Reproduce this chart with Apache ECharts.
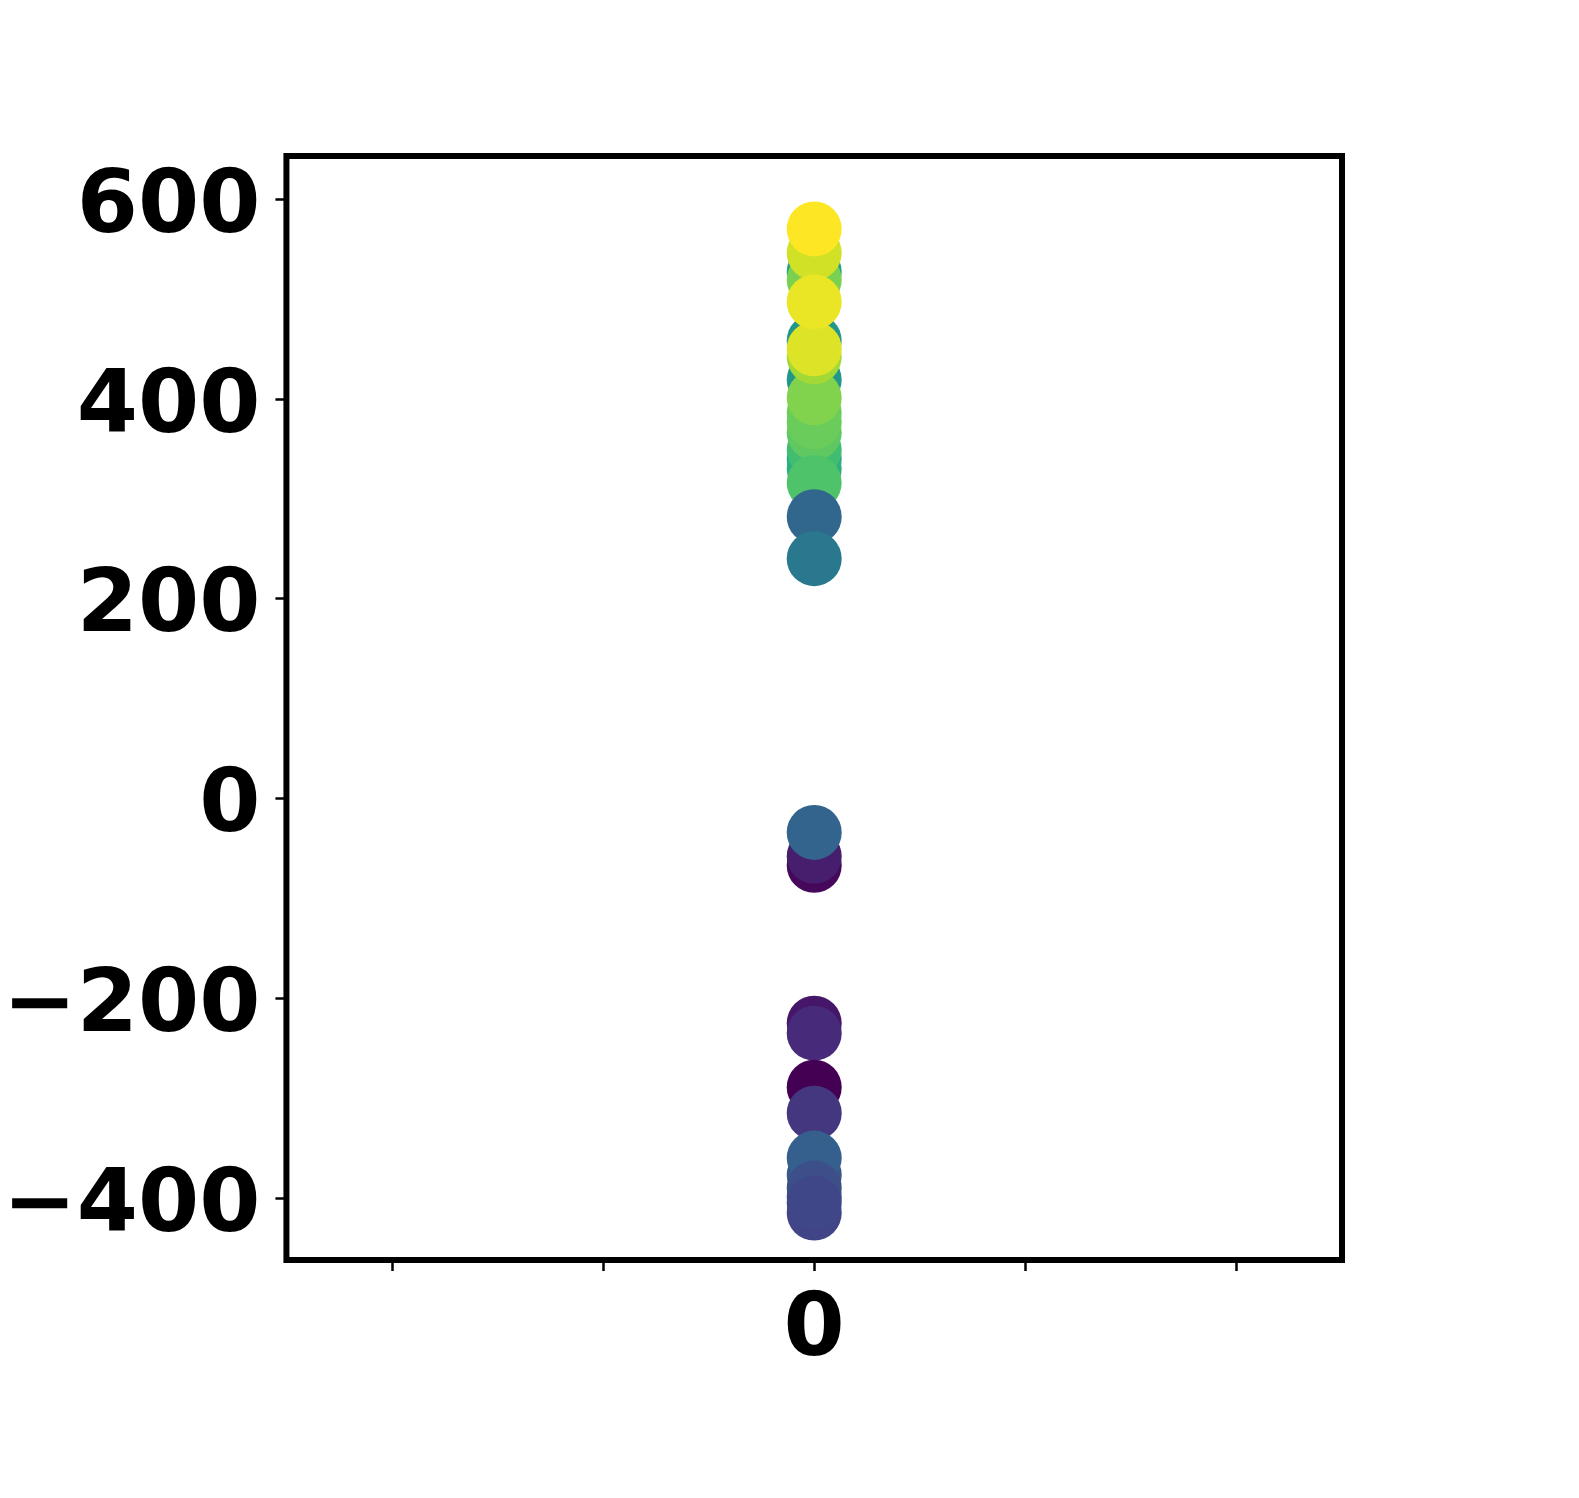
<!DOCTYPE html>
<html>
<head>
<meta charset="utf-8">
<script src="https://cdn.jsdelivr.net/npm/echarts@6/dist/echarts.min.js"></script>
<style>
  html, body { margin: 0; padding: 0; background: #fff; }
  #main { width: 1579px; height: 1498px; }
</style>
</head>
<body>
<div id="main"></div>
<script>
// every point sits at x = 0; drawn in this order (later on top)
var xValues = [0, 0, 0, 0, 0, 0, 0, 0, 0, 0, 0, 0, 0, 0, 0, 0, 0,
  0, 0, 0, 0, 0, 0, 0, 0, 0, 0, 0, 0, 0, 0, 0];
var yValues = [527, 519, 458, 419, 340, 330, 349, 386, 366, 377, 401, 442, 450, 316, 282, 240, 546, 497, 570,
  -67, -58, -34, -225, -235, -289, -315, -415, -399, -377, -360, -390, -405];
var colorValues = [0.55, 0.8, 0.52, 0.52, 0.6, 0.63, 0.69, 0.78, 0.75, 0.77, 0.81, 0.86, 0.95, 0.72, 0.33, 0.4, 0.93, 0.97, 1.0,
  0.02, 0.08, 0.32, 0.06, 0.12, 0.0, 0.16, 0.2, 0.22, 0.27, 0.3, 0.24, 0.21];

var yTicks = [-400, -200, 0, 200, 400, 600];
var xTicks = [-2, -1, 0, 1, 2];
var xLabels = [0];

var viridis = ["#440154", "#482475", "#414487", "#355f8d", "#2a788e", "#21918c",
  "#22a884", "#44bf70", "#7ad151", "#bddf26", "#fde725"];

var points = [];
for (var i = 0; i < yValues.length; i++) {
  points.push([xValues[i], yValues[i], colorValues[i]]);
}

var labelFont = {
  fontFamily: "DejaVu Sans",
  fontWeight: "bold",
  fontSize: 88,
  color: "#000",
};

var chart = echarts.init(document.getElementById("main"), null, { renderer: "canvas" });
var option = {
  backgroundColor: "#fff",
  animation: false,
  grid: {
    left: 284,
    top: 156,
    right: 237,
    bottom: 238,
    show: true,
    borderColor: "#000",
    borderWidth: 6,
    backgroundColor: "transparent",
  },
  visualMap: {
    show: false,
    type: "continuous",
    dimension: 2,
    min: 0,
    max: 1,
    inRange: { color: viridis },
  },
  xAxis: {
    type: "value",
    min: -2.5,
    max: 2.5,
    axisLine: { show: false, onZero: false },
    splitLine: { show: false },
    axisTick: {
      show: true,
      customValues: xTicks,
      length: 11,
      lineStyle: { color: "#000", width: 2.5 },
    },
    axisLabel: Object.assign({
      customValues: xLabels,
      margin: 28,
    }, labelFont),
  },
  yAxis: {
    type: "value",
    min: -462,
    max: 643,
    axisLine: { show: false, onZero: false },
    splitLine: { show: false },
    axisTick: {
      show: true,
      customValues: yTicks,
      length: 11,
      lineStyle: { color: "#000", width: 2.5 },
    },
    axisLabel: {
      customValues: yTicks,
      margin: 26,
      formatter: function (v) {
        return "{v|" + String(v).replace("-", "\u2212") + "}";
      },
      rich: {
        v: Object.assign({ padding: [20, 0, 0, 0] }, labelFont),
      },
    },
  },
  series: [
    {
      type: "scatter",
      data: points,
      symbol: "circle",
      symbolSize: 55,
      itemStyle: { opacity: 1 },
    },
  ],
};
chart.setOption(option);
</script>
</body>
</html>
